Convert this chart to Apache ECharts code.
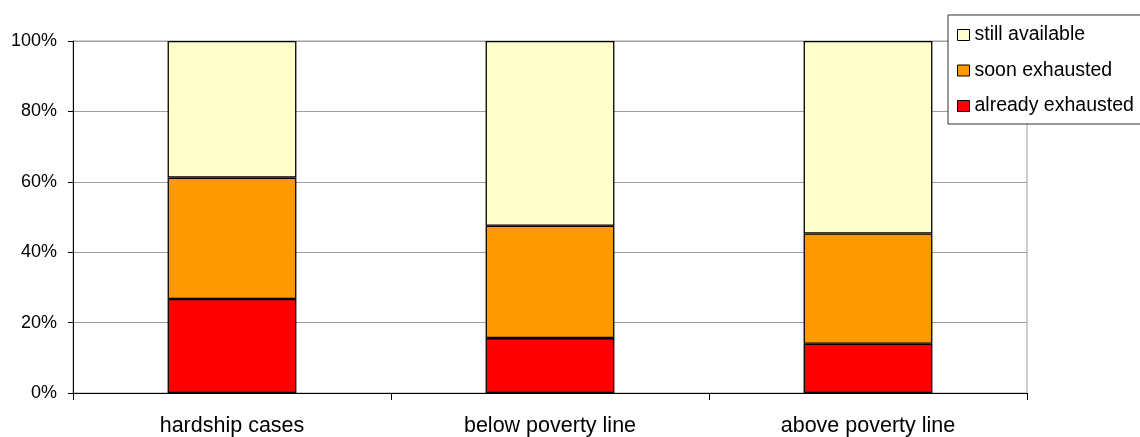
<!DOCTYPE html>
<html>
<head>
<meta charset="utf-8">
<script src="https://cdn.jsdelivr.net/npm/echarts@6/dist/echarts.min.js"></script>
<style>
  html, body { margin: 0; padding: 0; background: #fff; }
  #chart { width: 1140px; height: 437px; }
</style>
</head>
<body>
<div id="chart"></div>
<script>
// Household groups on the x axis
const categories = ['hardship cases', 'below poverty line', 'above poverty line'];

// Share of households (%) per status, stacked bottom to top
const alreadyExhausted = [26.7, 15.6, 14.0];
const soonExhausted    = [34.5, 31.9, 31.3];
const stillAvailable   = [38.8, 52.5, 54.7];

// Legend order, top to bottom
const legendOrder = ['still available', 'soon exhausted', 'already exhausted'];

const font = 'Liberation Sans, Arial, Helvetica, sans-serif';

const chart = echarts.init(document.getElementById('chart'), null, { renderer: 'canvas' });

function barSeries(name, data, color) {
  return {
    name: name,
    type: 'bar',
    stack: 'share',
    data: data,
    barWidth: '40.5%',
    itemStyle: { color: color, borderColor: '#000', borderWidth: 1.3 },
    emphasis: { disabled: true }
  };
}

chart.setOption({
  animation: false,
  backgroundColor: '#fff',
  grid: {
    left: 73, right: 113, top: 41, bottom: 42,
    show: true, borderColor: '#a0a0a0', borderWidth: 1
  },
  legend: {
    data: legendOrder,
    orient: 'vertical',
    left: 948, top: 15,
    padding: [10, 40, 8, 9],
    itemGap: 15.5,
    itemWidth: 12, itemHeight: 11,
    itemTextGap: 9,
    icon: 'rect',
    backgroundColor: '#fff',
    borderColor: '#333',
    borderWidth: 1,
    borderRadius: 0,
    textStyle: { fontFamily: font, fontSize: 19.5, lineHeight: 20, color: '#000' },
    itemStyle: { borderColor: '#000', borderWidth: 1 },
    selectedMode: false
  },
  xAxis: {
    type: 'category',
    data: categories,
    boundaryGap: true,
    axisLine: { lineStyle: { color: '#000', width: 1 } },
    axisTick: { show: true, length: 7, inside: false, lineStyle: { color: '#000' } },
    axisLabel: { fontFamily: font, fontSize: 21.5, color: '#000', margin: 22 },
    splitLine: { show: false }
  },
  yAxis: {
    type: 'value',
    min: 0, max: 100, interval: 20,
    axisLine: { show: true, lineStyle: { color: '#000', width: 1 } },
    axisTick: { show: true, length: 5, lineStyle: { color: '#000' } },
    axisLabel: { fontFamily: font, fontSize: 18, color: '#000', margin: 16, formatter: '{value}%' },
    splitLine: { show: true, lineStyle: { color: '#a0a0a0', width: 1 } }
  },
  series: [
    barSeries('already exhausted', alreadyExhausted, '#ff0000'),
    barSeries('soon exhausted', soonExhausted, '#ff9900'),
    barSeries('still available', stillAvailable, '#ffffcc')
  ]
});
</script>
</body>
</html>
